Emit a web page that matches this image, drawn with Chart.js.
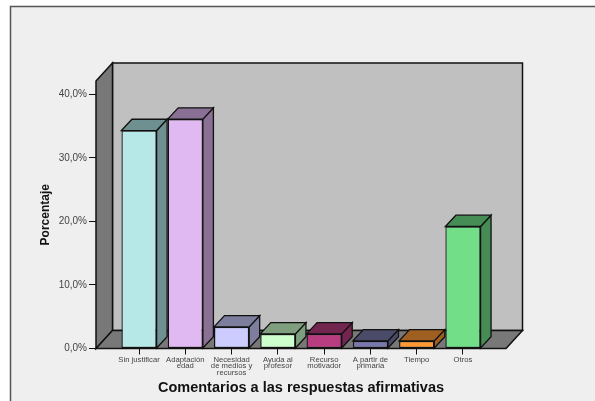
<!DOCTYPE html>
<html>
<head>
<meta charset="utf-8">
<title>Comentarios a las respuestas afirmativas</title>
<script src="https://cdn.jsdelivr.net/npm/chart.js@4"></script>
<style>
html, body { margin: 0; padding: 0; background: #fff; }
canvas { display: block; }
</style>
</head>
<body>
<canvas id="comentariosChart" width="595" height="401"></canvas>
<script>
// ------ data ------ //
var categories = [
	'Sin justificar',
	['Adaptación', 'edad'],
	['Necesidad', 'de medios y', 'recursos'],
	['Ayuda al', 'profesor'],
	['Recurso', 'motivador'],
	['A partir de', 'primaria'],
	'Tiempo',
	'Otros'
]
var porcentajes = [34.3, 36.1, 3.4, 2.3, 2.3, 1.2, 1.2, 19.2]
var yTicks = [0, 10, 20, 30, 40]

// ------ colours ------ //
var frontColors = ['#b6e8e8', '#e0b8f2', '#ccccff', '#ccffcc', '#b83c80', '#7878ac', '#ff9933', '#72df88']
var sideColors = ['#6f9090', '#8a7095', '#7d7d9e', '#7e9e7e', '#72264f', '#4a4a69', '#9e5f20', '#468c55']

var WALL_DX = 16.5, WALL_DY = -18
var BAR_DX = 10.5, BAR_DY = -11.3

function poly(ctx, pts, fill) {
	ctx.beginPath()
	ctx.moveTo(pts[0][0], pts[0][1])
	for (var i = 1; i < pts.length; i++) ctx.lineTo(pts[i][0], pts[i][1])
	ctx.closePath()
	ctx.fillStyle = fill
	ctx.fill()
	ctx.stroke()
}

// grey panel behind everything
var panelPlugin = {
	id: 'panel',
	beforeDraw: function (chart) {
		var ctx = chart.ctx
		ctx.save()
		ctx.fillStyle = '#fff'
		ctx.fillRect(0, 0, chart.width, chart.height)
		ctx.fillStyle = '#efefef'
		ctx.strokeStyle = '#555'
		ctx.lineWidth = 1.5
		ctx.fillRect(10.5, 6.5, 590, 400)
		ctx.strokeRect(10.5, 6.5, 590, 400)
		ctx.restore()
	}
}

// walls, floor and the side + top faces of the bars
var box3dPlugin = {
	id: 'box3d',
	beforeDatasetsDraw: function (chart) {
		var ctx = chart.ctx, a = chart.chartArea
		var l = a.left, r = a.right, t = a.top, b = a.bottom
		ctx.save()
		ctx.strokeStyle = '#111'
		ctx.lineWidth = 1.5
		ctx.lineJoin = 'miter'
		poly(ctx, [[l + WALL_DX, t + WALL_DY], [r + WALL_DX, t + WALL_DY], [r + WALL_DX, b + WALL_DY], [l + WALL_DX, b + WALL_DY]], '#c0c0c0')
		poly(ctx, [[l, t], [l + WALL_DX, t + WALL_DY], [l + WALL_DX, b + WALL_DY], [l, b]], '#787878')
		poly(ctx, [[l, b], [l + WALL_DX, b + WALL_DY], [r + WALL_DX, b + WALL_DY], [r, b]], '#787878')

		ctx.lineWidth = 1.3
		chart.getDatasetMeta(0).data.forEach(function (bar, i) {
			var x0 = bar.x - bar.width / 2, x1 = bar.x + bar.width / 2
			var top = bar.y, base = bar.base
			poly(ctx, [[x1, base], [x1 + BAR_DX, base + BAR_DY], [x1 + BAR_DX, top + BAR_DY], [x1, top]], sideColors[i])
			poly(ctx, [[x0, top], [x0 + BAR_DX, top + BAR_DY], [x1 + BAR_DX, top + BAR_DY], [x1, top]], sideColors[i])
		})
		ctx.restore()
	}
}

var ctx = document.getElementById('comentariosChart')
var myChart = new Chart(ctx, {
	type: 'bar',
	data: {
		datasets: [{
			label: 'Porcentaje',
			data: porcentajes.map(function (v, i) { return { x: i, y: v } }),
			backgroundColor: frontColors,
			borderColor: '#111',
			borderWidth: 1.3,
			borderSkipped: false,
			barPercentage: 0.76,
			categoryPercentage: 1
		}]
	},
	options: {
		responsive: false,
		animation: false,
		layout: { padding: { top: 81, right: 89, left: 0, bottom: 0 } },
		plugins: { legend: { display: false }, tooltip: { enabled: false } },
		scales: {
			x: {
				type: 'linear',
				offset: false,
				min: -0.93,
				max: 7.93,
				afterBuildTicks: function (scale) {
					scale.ticks = categories.map(function (c, i) { return { value: i } })
				},
				afterFit: function (scale) { scale.height = 52.5 },
				ticks: {
					autoSkip: false,
					maxRotation: 0,
					padding: 2,
					color: '#444',
					font: { family: 'Liberation Sans', size: 7.7, lineHeight: 0.85 },
					callback: function (v) { return categories[v] }
				},
				grid: { offset: false, drawOnChartArea: false, drawTicks: true, tickLength: 6, color: '#111', lineWidth: 1 },
				border: { display: false },
				title: {
					display: true,
					text: 'Comentarios a las respuestas afirmativas',
					color: '#111',
					font: { family: 'Liberation Sans', size: 14.5, weight: 'bold' },
					padding: { top: 0, bottom: 4 }
				}
			},
			y: {
				min: 0,
				max: 42.1,
				afterBuildTicks: function (scale) {
					scale.ticks = yTicks.map(function (v) { return { value: v } })
				},
				afterFit: function (scale) { scale.width = 96 },
				ticks: {
					padding: 2,
					color: '#444',
					font: { family: 'Liberation Sans', size: 10 },
					callback: function (v) { return v.toFixed(1).replace('.', ',') + '%' }
				},
				grid: { drawOnChartArea: false, drawTicks: true, tickLength: 7, color: '#111', lineWidth: 1 },
				border: { display: false },
				title: {
					display: true,
					text: 'Porcentaje',
					color: '#111',
					font: { family: 'Liberation Sans', size: 12, weight: 'bold' },
					padding: { top: 38, bottom: 0 }
				}
			}
		}
	},
	plugins: [panelPlugin, box3dPlugin]
})
</script>
</body>
</html>
